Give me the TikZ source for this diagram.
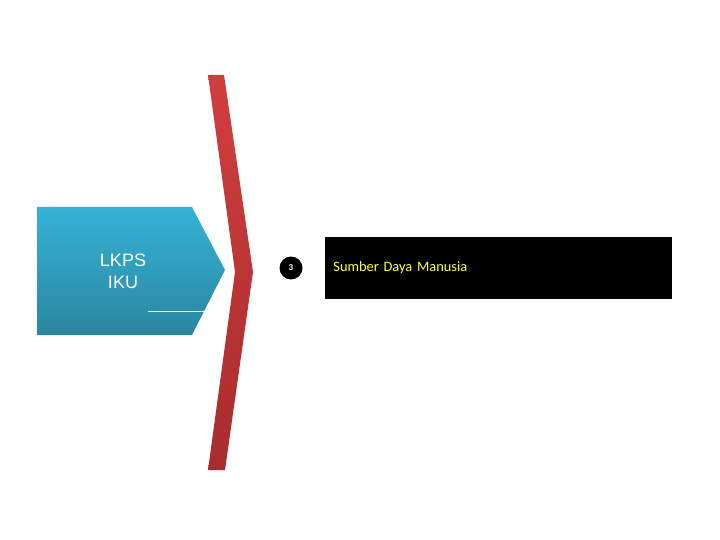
\documentclass[tikz,border=0pt]{standalone}
\usepackage{fontspec}
\setmainfont{Carlito}
\newfontfamily\arialfont{Liberation Sans}
\usetikzlibrary{positioning}

\definecolor{tabblue}{HTML}{35B2D6}
\definecolor{tabdark}{HTML}{2A87A0}
\definecolor{bracketred}{HTML}{D13E3E}
\definecolor{bracketdark}{HTML}{A82C2E}
\definecolor{titleyellow}{HTML}{FFFF33}

\begin{document}
\begin{tikzpicture}[x=1pt, y=-1pt,
    numdot/.style={circle, fill=black, text=white, font=\bfseries\small, minimum size=23pt, inner sep=0pt},
    titlebox/.style={rectangle, fill=black, text=titleyellow, font=\Large, minimum width=347pt, minimum height=62pt, text width=330pt, align=left}]

    \useasboundingbox (0,0) rectangle (720,540);

    % blue tab
    \shade[top color=tabblue, bottom color=tabdark]
        (37,207) -- (192,207) -- (225,270) -- (192,335) -- (37,335) -- cycle;
    \node (tab) [text=white, font=\arialfont\fontsize{18}{22}\selectfont, align=center] at (123,271) {LKPS\\IKU};
    \draw[white, thin] (148,311) -- (204,311);

    % red bracket
    \shade[top color=bracketred, bottom color=bracketdark]
        (208,75) -- (224,75) -- (253,272) -- (225,470) -- (208,470) -- (235,272) -- cycle;

    \node (num) [numdot] at (291,268) {3};
    \node (title) [titlebox, right=22pt of num] {Sumber Daya Manusia};

\end{tikzpicture}
\end{document}
